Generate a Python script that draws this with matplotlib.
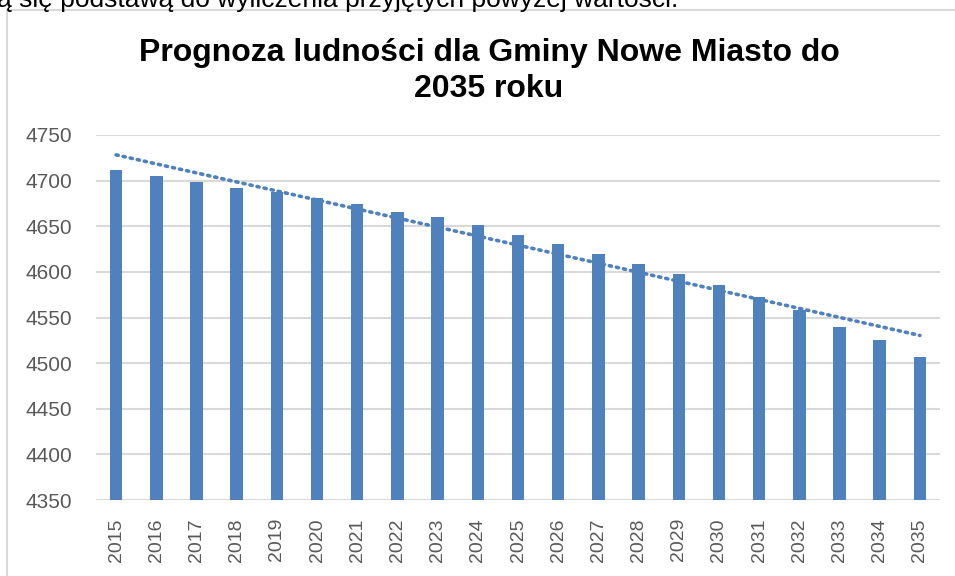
import matplotlib
matplotlib.use('Agg')
import numpy as np
import matplotlib.pyplot as plt
from matplotlib.patches import Rectangle

plt.rcParams['font.family'] = ['Liberation Sans', 'DejaVu Sans']

# data
years = [str(y) for y in range(2015, 2036)]
population = [4712, 4705, 4699, 4692, 4688, 4681, 4674, 4666, 4660, 4651, 4640,
              4631, 4620, 4609, 4598, 4586, 4573, 4558, 4540, 4525, 4507]
yticks = [4350, 4400, 4450, 4500, 4550, 4600, 4650, 4700, 4750]

W, H = 955, 576
fig = plt.figure(figsize=(W / 100, H / 100), dpi=100)

# text of the page above the chart (cut off by the screenshot)
fig.text(-3 / W, 1 - 7 / H, 'ą się podstawą do wyliczenia przyjętych powyżej wartości.',
         fontsize=19, va='baseline', ha='left', color='black')

# chart frame
fig.patches.append(Rectangle((7 / W, -0.1), 1.1, 1.1 - 10 / H, transform=fig.transFigure,
                             facecolor='white', edgecolor='#D9D9D9', lw=1.5, zorder=-1))

ax = fig.add_axes([96 / W, 1 - 500 / H, (940 - 96) / W, (500 - 135) / H])
ax.set_facecolor('none')

x = np.arange(len(years))
ax.bar(x, population, width=0.31, color='#4F81BD', zorder=3)

# linear trend line
coef = np.polyfit(x, population, 1)
ax.plot(x, np.polyval(coef, x), linestyle=(0, (0.6, 1.4)), color='#4F81BD',
        lw=2.6, dash_capstyle='round', zorder=4)

ax.set_xlim(-0.5, len(years) - 0.5)
ax.set_ylim(4350, 4750)
ax.set_yticks(yticks)
ax.set_xticks(x)
ax.set_xticklabels(years, rotation=90)
ax.grid(axis='y', color='#D9D9D9', lw=1.5, zorder=0)
for s in ax.spines.values():
    s.set_visible(False)
ax.tick_params(axis='y', length=0, pad=17, labelsize=15, labelcolor='#595959')
ax.tick_params(axis='x', length=0, pad=13, labelsize=14, labelcolor='#595959')

fig.text(489 / W, 1 - 61 / H, 'Prognoza ludności dla Gminy Nowe Miasto do',
         fontsize=23, fontweight='bold', ha='center', va='baseline')
fig.text(489 / W, 1 - 97 / H, '2035 roku',
         fontsize=23, fontweight='bold', ha='center', va='baseline')

fig.savefig('out.png', dpi=100)
